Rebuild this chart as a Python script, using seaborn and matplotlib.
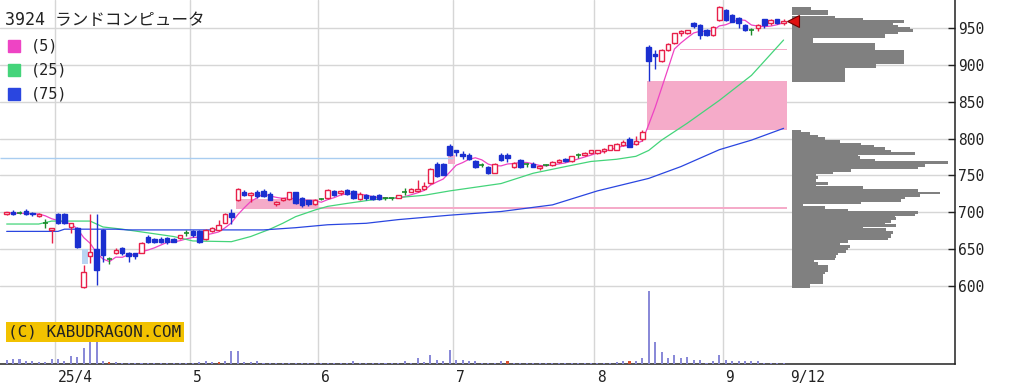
import numpy as np
import pandas as pd
import matplotlib
matplotlib.use("Agg")
import matplotlib.pyplot as plt
import matplotlib.transforms as mtransforms
import seaborn as sns

# ---- daily prices (index = trading day, 2025/3/19 .. 9/12) ----
opens = [697, 701, 699, 702, 699, 695, 685, 676, 697, 697,
         680, 678, 598, 640, 650, 676, 636, 644, 651, 645,
         644, 645, 667, 663, 664, 665, 664, 665, 672, 674,
         674, 663, 674, 676, 686, 699, 717, 727, 724, 728,
         729, 725, 711, 716, 718, 727, 719, 716, 711, 718,
         719, 729, 726, 730, 729, 718, 723, 722, 723, 719,
         719, 720, 727, 728, 729, 731, 740, 766, 766, 790,
         785, 779, 778, 770, 764, 762, 754, 778, 778, 761,
         771, 765, 766, 760, 764, 764, 768, 773, 769, 778,
         778, 780, 780, 783, 785, 785, 792, 800, 793, 799,
         925, 915, 905, 920, 930, 943, 944, 957, 954, 947,
         941, 961, 975, 968, 964, 954, 947, 950, 962, 957,
         962, 957]
highs = [701, 703, 702, 705, 700, 699, 691, 679, 699, 699,
         686, 680, 628, 698, 698, 677, 639, 651, 653, 646,
         645, 659, 669, 665, 666, 667, 665, 669, 676, 676,
         676, 677, 680, 690, 699, 704, 733, 730, 727, 730,
         731, 727, 715, 720, 728, 728, 721, 717, 718, 720,
         731, 730, 730, 731, 730, 727, 725, 724, 725, 721,
         720, 724, 733, 733, 744, 741, 760, 768, 767, 793,
         785, 783, 781, 771, 767, 763, 767, 780, 780, 768,
         772, 767, 768, 764, 766, 769, 772, 774, 777, 780,
         782, 785, 785, 787, 792, 794, 798, 802, 804, 812,
         927, 920, 922, 930, 944, 948, 948, 959, 956, 949,
         953, 980, 976, 970, 965, 956, 950, 956, 963, 962,
         963, 962]
lows = [696, 696, 697, 696, 695, 694, 679, 658, 684, 684,
        672, 652, 597, 631, 601, 632, 630, 643, 642, 633,
        636, 644, 658, 658, 658, 657, 659, 664, 668, 667,
        658, 662, 673, 675, 685, 684, 715, 722, 714, 720,
        721, 716, 709, 715, 717, 711, 707, 708, 710, 716,
        718, 722, 723, 723, 718, 716, 717, 716, 716, 717,
        716, 719, 724, 727, 728, 730, 739, 748, 750, 776,
        776, 773, 771, 760, 762, 752, 753, 769, 768, 760,
        760, 762, 761, 758, 763, 763, 767, 768, 768, 774,
        777, 779, 779, 781, 784, 784, 790, 788, 792, 797,
        878, 895, 904, 919, 929, 940, 942, 951, 936, 940,
        940, 960, 960, 958, 950, 946, 941, 946, 951, 955,
        956, 955]
closes = [700, 697, 699, 697, 697, 698, 685, 679, 685, 686,
          685, 653, 619, 646, 622, 642, 636, 649, 645, 640,
          640, 658, 660, 660, 659, 659, 660, 669, 672, 669,
          660, 676, 678, 683, 697, 694, 732, 724, 726, 722,
          722, 717, 714, 719, 727, 712, 710, 711, 717, 718,
          730, 723, 729, 725, 719, 725, 719, 718, 718, 719,
          719, 723, 727, 731, 732, 735, 759, 749, 751, 778,
          782, 777, 772, 761, 764, 753, 766, 771, 774, 767,
          761, 765, 762, 763, 764, 768, 771, 769, 776, 778,
          781, 784, 784, 786, 791, 793, 796, 789, 797, 809,
          905, 912, 920, 929, 943, 946, 947, 953, 941, 941,
          952, 979, 961, 959, 957, 948, 947, 954, 955, 961,
          957, 960]
volume = [4, 5, 5, 3, 3, 2, 2, 5, 5, 3, 8, 7, 16, 22, 22, 3, 2,
          2, 1, 1.5, 1, 1, 1, 1, 1, 1, 1, 1, 1,
          1.5, 2, 3, 2, 2, 3, 13, 13, 2, 2, 3,
          1, 1, 1, 1, 1, 1, 1.5, 1, 1, 1, 1.5, 1, 1, 1, 3, 1, 1, 1, 1, 1, 1, 1,
          3, 1.5, 6, 2, 9, 4, 3, 14, 4, 4, 3, 3, 1.5, 1.5,
          1.5, 3, 3, 1.5, 1.5, 1.5, 1.5, 1.5, 1.5, 1.5, 1.5, 1.5, 1.5, 1.5,
          1.5, 1.5, 1.5, 1.5, 1.5,
          2, 3, 3, 3, 6,
          73, 22, 12, 6, 9, 6, 7, 4, 4, 1.5, 3, 9, 4, 3, 3, 3, 3, 3,
          1.5, 1.5, 1.5, 1.5]
vol_red_days = [16, 33, 78, 97]

# moving averages (25 and 75 need history before the window)
ma25_idx = [0, 5, 7, 13, 15, 18, 22, 26, 29, 35, 38, 41, 43, 45, 48, 50, 53,
            57, 61, 65, 69, 73, 77, 82, 87, 91, 95, 98, 100, 102, 106, 111, 116, 121]
ma25_val = [684, 684, 688, 688, 680, 677, 672, 667, 661, 660, 667, 677, 685, 694, 703, 708, 712,
            717, 720, 723, 729, 734, 739, 753, 762, 769, 772, 776, 784, 798, 821, 852, 886, 934]
ma75_idx = [0, 8, 9, 17, 19, 40, 45, 50, 56, 61, 69, 77, 85, 92, 100, 105, 111, 116, 121]
ma75_val = [674, 674, 677, 677, 676, 676, 679, 683, 685, 690, 696, 701, 710, 729, 746, 762, 785, 798, 814]

# price windows (gaps): start, end, low, high, gap down?
win_start = [11.7, 35.7, 48.5, 68.8, 99.7, 104.9]
win_end = [12.7, 48.5, 121.5, 69.8, 121.5, 121.5]
win_low = [630, 704, 704, 766, 812, 920.5]
win_high = [650, 718, 707.5, 778, 879, 921.5]
win_down = [True, False, False, False, False, False]
hline_price = 774
hline_end = 69.5

# volume by price (bin centre, width)
prof_price = [977.1, 973.2, 969.9, 965.3, 961.9, 959.2, 956.9, 954.6, 952.4, 949.9,
              947.0, 944.2, 941.3, 938.7, 936.1, 932.9, 930.4, 928.0, 925.0, 922.0,
              919.0, 916.0, 913.0, 910.0, 907.0, 904.0, 900.8, 897.5, 894.0, 891.0,
              888.0, 885.0, 882.0, 879.0,
              810.2, 806.8, 803.2, 799.8, 796.2, 792.5, 789.6, 786.2, 783.0, 780.1,
              777.1, 774.4, 770.6, 767.2, 763.6, 760.4, 757.0, 753.4, 750.0, 746.8,
              743.0, 739.3, 736.4, 733.2, 729.8, 726.2, 722.8, 719.6, 716.2, 712.6,
              709.2, 706.0, 703.1, 700.1, 697.0, 694.0, 691.1, 688.0, 685.0, 682.0,
              678.9, 676.0, 673.0, 669.8, 666.9, 664.0, 660.8, 657.4, 653.8, 650.4,
              647.2, 643.8, 640.0, 636.6, 633.6, 630.2, 626.6, 623.0, 620.2, 617.5,
              614.0, 611.0, 607.5, 604.5, 601.5, 598.5]
prof_vol = [19, 36, 36, 43, 71, 112, 84, 101, 106, 118,
            121, 106, 93, 93, 21, 21, 21, 83, 83, 83,
            112, 112, 112, 112, 112, 112, 84, 84, 53, 53,
            53, 53, 53, 53,
            9, 18, 26, 33, 48, 69, 82, 93, 99, 123,
            66, 68, 83, 156, 133, 126, 59, 41, 24, 26,
            24, 36, 24, 71, 126, 148, 128, 113, 109, 69,
            11, 33, 56, 126, 123, 103, 104, 99, 93, 104,
            71, 94, 101, 99, 99, 96, 56, 48, 58, 56,
            54, 46, 44, 43, 22, 26, 36, 36, 36, 33,
            31, 31, 31, 31, 18, 18]

tick_pos = [7.5, 28.5, 48.5, 69.5, 91.5, 111.5, 121.5]
tick_labels = ["25/4", "5", "6", "7", "8", "9", "9/12"]
month_lines = tick_pos[:-1]

RED, BLUE, GREEN = "#e8204a", "#1a2fd0", "#1a8a2a"
MA_COLORS = {"(5)": "#ee44c4", "(25)": "#44d47a", "(75)": "#2a46e0"}
GRID = "#d6d6d6"

sns.set_style("white")
plt.rcParams["font.family"] = ["DejaVu Sans Mono", "Noto Sans CJK JP"]

W, H = 1016, 391
fig = plt.figure(figsize=(W / 100, H / 100), dpi=100)
ax = fig.add_axes([0, 27 / H, 955 / W, 364 / H])
ax.set_xlim(-1.04, 147.7)
ax.set_ylim(493.8, 988.4)

# grid
ax.set_yticks(range(600, 951, 50))
ax.grid(axis="y", color=GRID, lw=1)
ax.grid(axis="x", visible=False)
for p in month_lines:
    ax.axvline(p, color=GRID, lw=1, zorder=0)
ax.set_axisbelow(True)

# windows
for s, e, lo, hi, dn in zip(win_start, win_end, win_low, win_high, win_down):
    ax.fill_between([s, e], lo, hi, color="#b9d5f2" if dn else "#f5abc9", lw=0, zorder=1)
ax.hlines(hline_price, -1.04, hline_end, color="#a9cdf0", lw=1, zorder=1)

# moving averages
idx = np.arange(len(closes))
ma5 = pd.Series(closes).rolling(5, min_periods=1).mean()
sns.lineplot(x=idx, y=ma5, ax=ax, color=MA_COLORS["(5)"], lw=0.9, zorder=2)
sns.lineplot(x=ma25_idx, y=ma25_val, ax=ax, color=MA_COLORS["(25)"], lw=0.9, zorder=2)
sns.lineplot(x=ma75_idx, y=ma75_val, ax=ax, color=MA_COLORS["(75)"], lw=0.9, zorder=2)

# candles
o, h, l, c = (np.array(a, dtype=float) for a in (opens, highs, lows, closes))
up, down, flat = c > o, c < o, c == o
wick_col = np.where(up, RED, np.where(down, BLUE, GREEN))
ax.vlines(idx, l, h, colors=wick_col, lw=1, zorder=3)
ax.bar(idx[up], (c - o)[up], bottom=o[up], width=0.7, facecolor="white",
       edgecolor=RED, lw=1, zorder=4)
ax.bar(idx[down], (o - c)[down], bottom=c[down], width=0.7, facecolor=BLUE,
       edgecolor=BLUE, lw=1, zorder=4)
ax.hlines(c[flat], idx[flat] - 0.4, idx[flat] + 0.4, colors=GREEN, lw=1.2, zorder=4)

# volume
vax = ax.twinx()
vcol = ["#d85030" if i in vol_red_days else "#8a8ad8" for i in idx]
vax.bar(idx, volume, width=0.32, color=vcol, lw=0)
vax.set_ylim(0, max(volume) * 5)
vax.axis("off")

# volume by price
pax = ax.inset_axes([792.3 / 955, 0, 1 - 792.3 / 955, 1], sharey=ax)
pax.barh(prof_price, prof_vol, height=3.9, left=0, color="#808080", lw=0)
pax.set_xlim(0, 955 - 792.3)
pax.axis("off")
pax.patch.set_alpha(0)
pax.plot(0.5, closes[-1], marker="<", ms=9, mfc="#e01010", mec="#700000",
         mew=0.8, clip_on=False, zorder=6)

# axes styling
for side in ("left", "top"):
    ax.spines[side].set_visible(False)
for side in ("right", "bottom"):
    ax.spines[side].set_color("#222222")
    ax.spines[side].set_linewidth(1.1)
ax.yaxis.tick_right()
ax.tick_params(axis="y", direction="in", length=5, width=1, pad=2,
               labelsize=10.5, colors="#222222", left=False, right=True)
ax.set_xticks(tick_pos)
ax.set_xticklabels(tick_labels, ha="left")
ax.tick_params(axis="x", length=0, pad=4, labelsize=10.5, colors="#222222")
shift = mtransforms.ScaledTranslation(3 / 100, 0, fig.dpi_scale_trans)
for lab in ax.get_xticklabels():
    lab.set_transform(lab.get_transform() + shift)
ax.set_xlabel("")
ax.set_ylabel("")

# title / legend
fig.text(5 / W, 1 - 20 / H, "3924 ランドコンピュータ", fontsize=12, va="center",
         color="#222222")
for k, (lab, col) in enumerate(MA_COLORS.items()):
    yc = 46 + k * 24
    fig.add_artist(plt.Rectangle((8 / W, 1 - (yc + 6) / H), 12 / W, 12 / H,
                                 transform=fig.transFigure, color=col))
    fig.text(31 / W, 1 - yc / H, lab, fontsize=11, va="center", color="#222222")

# watermark
fig.text(8 / W, 1 - 332 / H, "(C) KABUDRAGON.COM", fontsize=11.5, va="center",
         color="#222222",
         bbox=dict(facecolor="#f2c200", edgecolor="none", boxstyle="square,pad=0.15"))

fig.savefig("out.png", dpi=100)
